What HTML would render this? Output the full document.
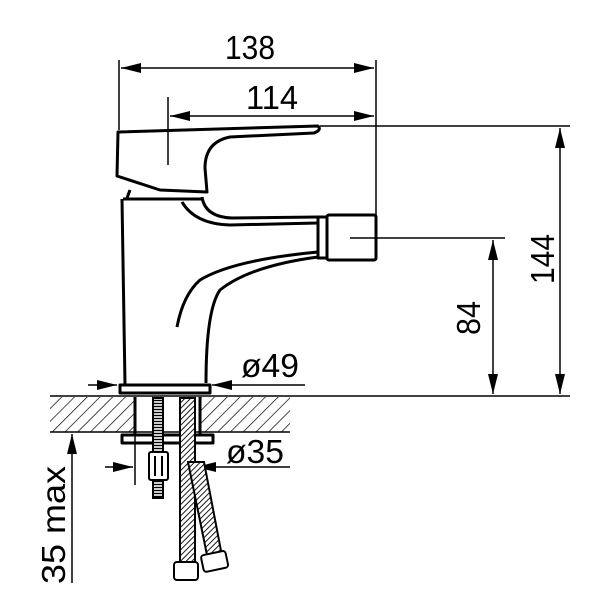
<!DOCTYPE html>
<html><head><meta charset="utf-8"><style>body{margin:0;background:#fff}svg{display:block}text{font-family:"Liberation Sans",sans-serif;font-size:33px;fill:#000}</style></head><body>
<svg width="600" height="600" viewBox="0 0 600 600" xmlns="http://www.w3.org/2000/svg">
<defs>
<marker id="a" viewBox="0 0 20 10" refX="20" refY="5" markerWidth="20" markerHeight="10" markerUnits="userSpaceOnUse" orient="auto-start-reverse"><path d="M0,0L20,5L0,10z"/></marker>
<pattern id="h" width="9" height="9" patternUnits="userSpaceOnUse" patternTransform="rotate(45)"><line x1="0" y1="0" x2="0" y2="9" stroke="#000" stroke-width="1.4"/></pattern>
<pattern id="br" width="4" height="4" patternUnits="userSpaceOnUse" patternTransform="rotate(45)"><rect width="4" height="4" fill="#fff"/><line x1="0" y1="0" x2="0" y2="4" stroke="#000" stroke-width="1.8"/></pattern>
<pattern id="th" width="4" height="3" patternUnits="userSpaceOnUse"><rect width="4" height="3" fill="#fff"/><line x1="0" y1="1.5" x2="4" y2="1.5" stroke="#000" stroke-width="1.4"/></pattern>
</defs>
<g stroke="#000" stroke-width="1.5" fill="none">
<rect x="50" y="397" width="85" height="35" fill="url(#h)" stroke="none"/>
<rect x="200" y="397" width="90" height="35" fill="url(#h)" stroke="none"/>
<line x1="50" y1="396" x2="570" y2="396"/>
<line x1="50" y1="432" x2="290" y2="432"/>
<line x1="119" y1="60" x2="119" y2="130"/>
<line x1="376" y1="60" x2="376" y2="238"/>
<line x1="121" y1="68" x2="374" y2="68" marker-start="url(#a)" marker-end="url(#a)"/>
<line x1="168" y1="97" x2="168" y2="165"/>
<line x1="170" y1="116" x2="374" y2="116" marker-start="url(#a)" marker-end="url(#a)"/>
<line x1="320" y1="126" x2="570" y2="126"/>
<line x1="350" y1="238" x2="505" y2="238"/>
<line x1="560" y1="128" x2="560" y2="394" marker-start="url(#a)" marker-end="url(#a)"/>
<line x1="493" y1="240" x2="493" y2="394" marker-start="url(#a)" marker-end="url(#a)"/>
<line x1="88" y1="385" x2="117" y2="385" marker-end="url(#a)"/>
<line x1="305" y1="385" x2="212" y2="385" marker-end="url(#a)"/>
<line x1="135" y1="398" x2="135" y2="485"/>
<line x1="105" y1="467" x2="133" y2="467" marker-end="url(#a)"/>
<line x1="290" y1="467" x2="196" y2="467" marker-end="url(#a)"/>
<line x1="72" y1="583" x2="72" y2="434" marker-end="url(#a)"/>
</g>
<g stroke="#000" stroke-width="3" fill="none" stroke-linejoin="round">
<path d="M118,132 L318,126 Q322,130 314,133 L230,137 Q205,142 205,168 L207,192 L160,190 L117,176 Z"/>
<path d="M130,190 L127,198"/>
<path d="M123,199 L203,199"/>
<path d="M122,199 L125,385"/>
<path d="M182,202 Q195,224 230,225 L318,223"/>
<path d="M202,197 Q205,217 232,218 L318,217"/>
<path d="M318,252 Q233,260 200,280 Q183,295 177,327"/>
<path d="M318,257 Q250,266 220,290 Q206,310 206,383"/>
<rect x="318" y="217" width="9" height="41"/>
<rect x="327" y="215" width="49" height="45" rx="2"/>
<rect x="120" y="385" width="90" height="8"/>
<rect x="122" y="435" width="91" height="8"/>
<line x1="135" y1="397" x2="135" y2="435"/>
<line x1="200" y1="397" x2="200" y2="435"/>
</g>
<g stroke="#000" stroke-width="2">
<rect x="153" y="398" width="10" height="100" fill="url(#th)"/>
<rect x="149" y="452" width="19" height="28" rx="2" fill="#fff"/>
<line x1="155" y1="456" x2="155" y2="476"/><line x1="162" y1="456" x2="162" y2="476"/>
<rect x="180" y="398" width="15" height="168" fill="url(#br)"/>
<path d="M188,462 L204,462 L222,556 L208,560 Z" fill="url(#br)"/>
<rect x="174" y="562" width="24" height="18" rx="3" fill="#fff"/>
<rect x="202" y="553" width="25" height="17" rx="3" fill="#fff" transform="rotate(-12 214 561)"/>
</g>
<text x="250" y="59" text-anchor="middle" textLength="50" lengthAdjust="spacingAndGlyphs">138</text>
<text x="272" y="109" text-anchor="middle" textLength="52" lengthAdjust="spacingAndGlyphs">114</text>
<text x="270" y="377" text-anchor="middle" textLength="58" lengthAdjust="spacingAndGlyphs">ø49</text>
<text x="255" y="463" text-anchor="middle" textLength="58" lengthAdjust="spacingAndGlyphs">ø35</text>
<text transform="translate(554,259) rotate(-90)" text-anchor="middle" textLength="50" lengthAdjust="spacingAndGlyphs">144</text>
<text transform="translate(480,318) rotate(-90)" text-anchor="middle" textLength="34" lengthAdjust="spacingAndGlyphs">84</text>
<text transform="translate(65,525) rotate(-90)" text-anchor="middle" textLength="118" lengthAdjust="spacingAndGlyphs">35 max</text>
</svg>
</body></html>
